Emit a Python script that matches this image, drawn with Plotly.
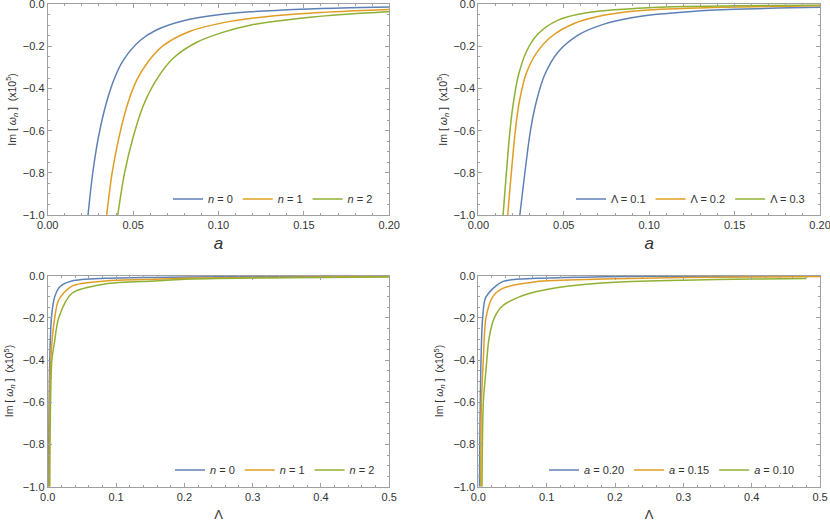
"""
Imaginary part of the quasinormal frequencies, four panels (Mathematica style)
"""

import plotly.graph_objects as go
from plotly.subplots import make_subplots

# colours of the default Mathematica palette
blue = "#5E81B5"
orange = "#E19C24"
green = "#8FB032"

# ---- panel 1 : Im[w] vs a, for n = 0, 1, 2
a_n0 = [0.0236, 0.0262, 0.0297, 0.0346, 0.0394, 0.0443, 0.0541, 0.0639, 0.0795, 0.100, 0.1186, 0.148, 0.177, 0.200]
im_n0 = [-1.0, -0.81, -0.63, -0.46, -0.345, -0.265, -0.172, -0.121, -0.078, -0.05, -0.036, -0.023, -0.016, -0.0125]
a_n1 = [0.0345, 0.0377, 0.0414, 0.0465, 0.0521, 0.059, 0.0678, 0.0834, 0.1029, 0.1186, 0.148, 0.177, 0.200]
im_n1 = [-1.0, -0.8, -0.643, -0.48, -0.36, -0.27, -0.195, -0.128, -0.087, -0.067, -0.045, -0.032, -0.025]
a_n2 = [0.0410, 0.0450, 0.0502, 0.056, 0.0639, 0.0736, 0.0873, 0.1029, 0.1185, 0.148, 0.177, 0.200]
im_n2 = [-1.0, -0.8, -0.625, -0.48, -0.355, -0.255, -0.18, -0.132, -0.099, -0.066, -0.046, -0.036]

# ---- panel 2 : Im[w] vs a, for Lambda = 0.1, 0.2, 0.3
a_l1 = [0.0243, 0.0305, 0.034, 0.0389, 0.0467, 0.0584, 0.074, 0.0896, 0.0994, 0.125, 0.150, 0.175, 0.200]
im_l1 = [-1.0, -0.6, -0.46, -0.333, -0.226, -0.146, -0.093, -0.064, -0.052, -0.034, -0.024, -0.018, -0.014]
a_l2 = [0.0172, 0.0217, 0.0242, 0.0281, 0.034, 0.0428, 0.0564, 0.074, 0.0994, 0.150, 0.200]
im_l2 = [-1.0, -0.596, -0.453, -0.327, -0.232, -0.153, -0.09, -0.051, -0.027, -0.013, -0.007]
a_l3 = [0.0145, 0.0184, 0.0203, 0.0232, 0.0281, 0.035, 0.0467, 0.0643, 0.0994, 0.150, 0.200]
im_l3 = [-1.0, -0.61, -0.48, -0.345, -0.225, -0.14, -0.075, -0.039, -0.016, -0.0075, -0.004]

# ---- panel 3 : Im[w] vs Lambda, for n = 0, 1, 2
lam_n0 = [0.001, 0.003, 0.0054, 0.0102, 0.0185, 0.0355, 0.084, 0.157, 0.25, 0.35, 0.5]
im3_n0 = [-1.0, -0.4, -0.2, -0.1, -0.05, -0.025, -0.0125, -0.008, -0.005, -0.003, -0.002]
lam_n1 = [0.002, 0.0044, 0.0102, 0.016, 0.0355, 0.084, 0.157, 0.2, 0.3, 0.4, 0.5]
im3_n1 = [-1.0, -0.4, -0.2, -0.115, -0.049, -0.025, -0.017, -0.0125, -0.008, -0.006, -0.004]
lam_n2 = [0.003, 0.006, 0.0097, 0.016, 0.0355, 0.084, 0.157, 0.2, 0.3, 0.4, 0.5]
im3_n2 = [-1.0, -0.4, -0.32, -0.2, -0.083, -0.039, -0.025, -0.017, -0.011, -0.008, -0.006]

# ---- panel 4 : Im[w] vs Lambda, for a = 0.20, 0.15, 0.10
lam_a20 = [0.0015, 0.0039, 0.0063, 0.0112, 0.0355, 0.084, 0.182, 0.3, 0.5]
im4_a20 = [-1.0, -0.4, -0.2, -0.1, -0.028, -0.0125, -0.005, -0.002, -0.001]
lam_a15 = [0.0035, 0.0045, 0.0073, 0.0112, 0.021, 0.0355, 0.084, 0.182, 0.3, 0.4, 0.5]
im4_a15 = [-1.0, -0.6, -0.4, -0.2, -0.1, -0.06, -0.028, -0.016, -0.008, -0.006, -0.004]
lam_a10 = [0.0054, 0.0073, 0.0112, 0.0155, 0.0234, 0.0355, 0.06, 0.084, 0.133, 0.2, 0.3, 0.4, 0.48]
im4_a10 = [-1.0, -0.6, -0.447, -0.3, -0.2, -0.1425, -0.1, -0.076, -0.049, -0.031, -0.021, -0.016, -0.013]

panels = [
    (1, 1, "legend", [("<i>n</i> = 0", a_n0, im_n0, blue),
                      ("<i>n</i> = 1", a_n1, im_n1, orange),
                      ("<i>n</i> = 2", a_n2, im_n2, green)]),
    (1, 2, "legend2", [("Λ = 0.1", a_l1, im_l1, blue),
                       ("Λ = 0.2", a_l2, im_l2, orange),
                       ("Λ = 0.3", a_l3, im_l3, green)]),
    (2, 1, "legend3", [("<i>n</i> = 0", lam_n0, im3_n0, blue),
                       ("<i>n</i> = 1", lam_n1, im3_n1, orange),
                       ("<i>n</i> = 2", lam_n2, im3_n2, green)]),
    (2, 2, "legend4", [("<i>a</i> = 0.20", lam_a20, im4_a20, blue),
                       ("<i>a</i> = 0.15", lam_a15, im4_a15, orange),
                       ("<i>a</i> = 0.10", lam_a10, im4_a10, green)]),
]

fig = make_subplots(rows=2, cols=2)

for row, col, leg, series in panels:
    for name, x, y, color in series:
        fig.add_trace(
            go.Scatter(x=x, y=y, mode="lines", name=name, legend=leg,
                       line=dict(color=color, width=1.5, shape="spline", smoothing=0.8)),
            row=row, col=col,
        )

frame = "#A0A0A0"
font_family = "Liberation Sans, Arial, sans-serif"
tickfont = dict(family=font_family, size=11, color="#333")


def frame_axis(dtick, minor_dtick, fmt, rng):
    return dict(
        range=rng, dtick=dtick, tickformat=fmt, showgrid=False, zeroline=False,
        automargin=False, ticklabeloverflow="allow",
        showline=True, linecolor=frame, linewidth=1, mirror="ticks",
        ticks="inside", ticklen=4, tickcolor=frame, tickfont=tickfont,
        minor=dict(ticks="inside", ticklen=2, dtick=minor_dtick, tickcolor=frame, showgrid=False),
    )


# domains placed to match the frames of the original picture
xdom = {1: [0.0575, 0.469], 2: [0.5763, 0.988]}
ydom = {1: [0.588, 0.9918], 2: [0.0676, 0.4718]}

for row in (1, 2):
    for col in (1, 2):
        if row == 1:
            xa = frame_axis(0.05, 0.01, ".2f", [0, 0.2])
            xa["title"] = dict(text="<i>a</i>", font=dict(family=font_family, size=17, color="#333"),
                               standoff=6)
        else:
            xa = frame_axis(0.1, 0.02, ".1f", [0, 0.5])
            xa["title"] = dict(text="Λ", font=dict(family=font_family, size=13, color="#333"),
                               standoff=10)
        xa["domain"] = xdom[col]
        ya = frame_axis(0.2, 0.05, ".1f", [-1, 0])
        ya["domain"] = ydom[row]
        fig.update_xaxes(xa, row=row, col=col)
        fig.update_yaxes(ya, row=row, col=col)

# y titles written as annotations so they sit where Mathematica put them
ytitle = "Im [ <i>ω<sub>n</sub></i> ]  (x10<sup>5</sup>)"
for xpx, ydom_row in [(12, ydom[1]), (443, ydom[1]), (10, ydom[2]), (440, ydom[2])]:
    fig.add_annotation(
        text=ytitle, textangle=-90, showarrow=False,
        x=xpx / 830, y=sum(ydom_row) / 2, xref="paper", yref="paper",
        xanchor="center", yanchor="middle",
        font=dict(family=font_family, size=10.5, color="#333"),
    )

legend_style = dict(orientation="h", bgcolor="rgba(0,0,0,0)", borderwidth=0,
                    xanchor="right", yanchor="middle",
                    font=dict(family=font_family, size=11, color="#333"),
                    itemwidth=30, tracegroupgap=0)

fig.update_layout(
    width=830, height=522,
    margin=dict(l=0, r=0, t=0, b=0),
    paper_bgcolor="white", plot_bgcolor="white",
    legend=dict(legend_style, x=378 / 830, y=(522 - 199) / 522),
    legend2=dict(legend_style, x=810 / 830, y=(522 - 199) / 522),
    legend3=dict(legend_style, x=380 / 830, y=(522 - 470) / 522),
    legend4=dict(legend_style, x=800 / 830, y=(522 - 470) / 522),
)

# the page body has a default 8px margin; drop it so the figure fills the window
fig.write_html("out.html", config={"displayModeBar": False},
               post_script="document.body.style.margin = '0px';")
